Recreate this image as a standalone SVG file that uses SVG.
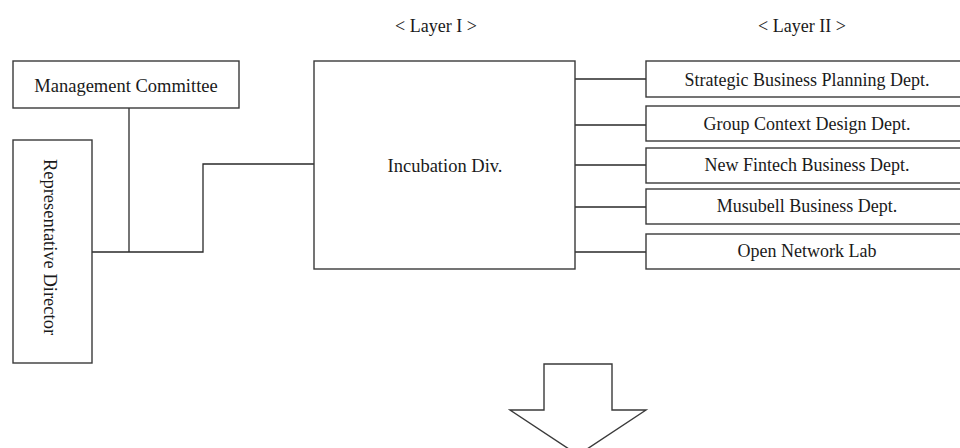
<svg xmlns="http://www.w3.org/2000/svg" width="960" height="448" viewBox="0 0 960 448">
<style>
.box{fill:#fff;stroke:#3a3a3a;stroke-width:1.4}
.ln{fill:none;stroke:#2a2a2a;stroke-width:1.3}
.t{font-family:"Liberation Serif","Times New Roman",serif;font-size:18.5px;fill:#1a1a1a;text-anchor:middle}
.s{font-size:18px}
</style>
<rect width="960" height="448" fill="#fff"/>
<g id="connectors">
<path class="ln" d="M129 108V252"/>
<path class="ln" d="M92 252H203V164H314"/>
<path class="ln" d="M575 79H646M575 125H646M575 165H646M575 207H646M575 252H646"/>
</g>
<g id="layer1-label"><text class="t s" x="436" y="32">&lt; Layer I &gt;</text></g>
<g id="layer2-label"><text class="t s" x="802" y="32">&lt; Layer II &gt;</text></g>
<g id="management-committee">
<rect class="box" x="13" y="61" width="226" height="47"/>
<text class="t" x="126" y="92">Management Committee</text>
</g>
<g id="representative-director">
<rect class="box" x="13" y="140" width="79" height="223"/>
<text class="t" transform="translate(44 247) rotate(90)">Representative Director</text>
</g>
<g id="incubation-div">
<rect class="box" x="314" y="61" width="261" height="208"/>
<text class="t" x="445" y="172">Incubation Div.</text>
</g>
<g id="strategic-business-planning">
<rect class="box" x="646" y="61" width="316" height="36"/>
<text class="t s" x="807" y="86">Strategic Business Planning Dept.</text>
</g>
<g id="group-context-design">
<rect class="box" x="646" y="106" width="316" height="35"/>
<text class="t s" x="807" y="130">Group Context Design Dept.</text>
</g>
<g id="new-fintech-business">
<rect class="box" x="646" y="148" width="316" height="35"/>
<text class="t s" x="807" y="171">New Fintech Business Dept.</text>
</g>
<g id="musubell-business">
<rect class="box" x="646" y="189" width="316" height="35"/>
<text class="t s" x="807" y="212">Musubell Business Dept.</text>
</g>
<g id="open-network-lab">
<rect class="box" x="646" y="234" width="316" height="35"/>
<text class="t s" x="807" y="257">Open Network Lab</text>
</g>
<g id="down-arrow">
<path class="box" d="M544 364H612V410H646L578 455L510 410H544Z"/>
</g>
</svg>
